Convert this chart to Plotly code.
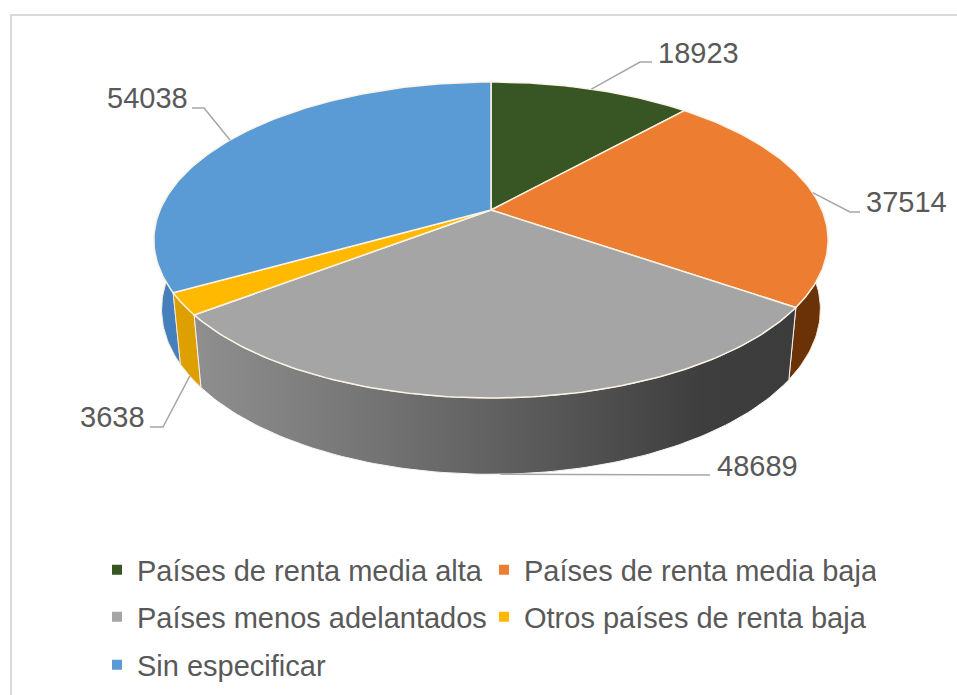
import math
import plotly.graph_objects as go

categories = ["Países de renta media alta", "Países de renta media baja",
              "Países menos adelantados", "Otros países de renta baja", "Sin especificar"]
values = [18923, 37514, 48689, 3638, 54038]
top_colors = ["#375623", "#ED7D31", "#A5A5A5", "#FFB900", "#5B9BD5"]
wall_colors = [None, "#6B3208", None, "#DDA000", "#4580BC"]
label_pos = [(698, 53), (906, 202), (757, 466), (112, 417), (147, 98)]
leader_knee = [(640, 62), (850, 212), (700, 475), (163, 427), (204, 108)]
leader_end = [(652, 62), (860, 212), (710, 475), (150, 427), (192, 108)]

# Page geometry of the tilted disc (pixels)
CX, CY = 491, 210
B, A, K = 331, 152.3, 0.19
DEPTH, SHRINK_X, STRETCH_Y = 68, 0.977, 1.044
FONT = "Liberation Sans"
TXT = "#595959"


def rim(deg, lower=False):
    t = math.radians(deg)
    u, v = math.sin(t), math.cos(t)
    d = 1 + K * v
    sx = SHRINK_X if lower else 1.0
    sy = STRETCH_Y if lower else 1.0
    return (CX + sx * B * u / d, CY + (DEPTH if lower else 0) - sy * A * v / d)


def arc(a, b, lower=False):
    n = max(2, int(abs(b - a)) + 1)
    return [rim(a + (b - a) * i / (n - 1), lower) for i in range(n)]


total = sum(values)
bounds = [0]
for val in values:
    bounds.append(bounds[-1] + val / total * 360)

fig = go.Figure()

# Walls (only the front half of the disc shows)
wall_ranges = [None, (70, bounds[2]), (bounds[2], bounds[3]), (bounds[3], bounds[4]), (bounds[4], 290)]
for i in (1, 4, 3, 2):
    a, b = wall_ranges[i]
    pts = arc(a, b) + arc(b, a, True)
    xs = [p[0] for p in pts] + [pts[0][0]]
    ys = [p[1] for p in pts] + [pts[0][1]]
    kw = dict(x=xs, y=ys, mode="lines", fill="toself", showlegend=False, hoverinfo="skip")
    if i == 2:
        fig.add_trace(go.Scatter(
            **kw, line=dict(color="#F4F4F4", width=1),
            fillgradient=dict(type="horizontal", start=200, stop=790, colorscale=[
                [0, "#8E8E8E"], [0.25, "#787878"], [0.55, "#5C5C5C"],
                [0.85, "#3E3E3E"], [1, "#3C3C3C"]])))
    else:
        fig.add_trace(go.Scatter(**kw, line=dict(color="#F4E8D8", width=1), fillcolor=wall_colors[i]))

# Top faces
for i, cat in enumerate(categories):
    pts = [(CX, CY)] + arc(bounds[i], bounds[i + 1]) + [(CX, CY)]
    fig.add_trace(go.Scatter(
        x=[p[0] for p in pts], y=[p[1] for p in pts], mode="lines", fill="toself",
        fillcolor=top_colors[i], line=dict(color="#FBF3E6", width=1.5), showlegend=False,
        name=cat, text=f"{cat}: {values[i]}", hoverinfo="text"))

# Leader lines and value labels
for i, val in enumerate(values):
    mid = (bounds[i] + bounds[i + 1]) / 2
    start = rim(mid, lower=i in (2, 3))
    fig.add_trace(go.Scatter(
        x=[start[0], leader_knee[i][0], leader_end[i][0]],
        y=[start[1], leader_knee[i][1], leader_end[i][1]],
        mode="lines", line=dict(color="#A6A6A6", width=1.5), showlegend=False, hoverinfo="skip"))
    fig.add_annotation(x=label_pos[i][0], y=label_pos[i][1], text=str(val), showarrow=False,
                       font=dict(family=FONT, size=29, color=TXT), xanchor="center", yanchor="middle")

# Legend entries, one legend per row so the row pitch can follow the picture
rows = ["legend", "legend", "legend2", "legend2", "legend3"]
for cat, col, lg in zip(categories, top_colors, rows):
    fig.add_trace(go.Scatter(x=[None], y=[None], mode="markers", name=cat, legend=lg,
                             marker=dict(symbol="square", size=10, color=col)))

W, H = 957, 695
def legend_at(y_px):
    return dict(orientation="h", x=(122 - 20) / W, y=1 - y_px / H, xanchor="left", yanchor="middle",
                entrywidth=347, entrywidthmode="pixels", indentation=-5, borderwidth=0, itemwidth=30,
                bgcolor="rgba(0,0,0,0)", font=dict(family=FONT, size=29, color=TXT))

fig.update_layout(
    width=W, height=H, margin=dict(l=0, r=0, t=0, b=0),
    paper_bgcolor="white", plot_bgcolor="white", hovermode="closest",
    xaxis=dict(range=[0, W], visible=False, fixedrange=True),
    yaxis=dict(range=[H, 0], visible=False, fixedrange=True),
    legend=legend_at(570), legend2=legend_at(617), legend3=legend_at(665),
    shapes=[dict(type="rect", xref="x", yref="y", x0=11, y0=15, x1=1000, y1=760,
                 line=dict(color="#D9D9D9", width=2), layer="below")],
)
fig.write_html("out.html", config=dict(displayModeBar=False),
               post_script="document.body.style.margin='0';document.documentElement.style.overflow='hidden';")
